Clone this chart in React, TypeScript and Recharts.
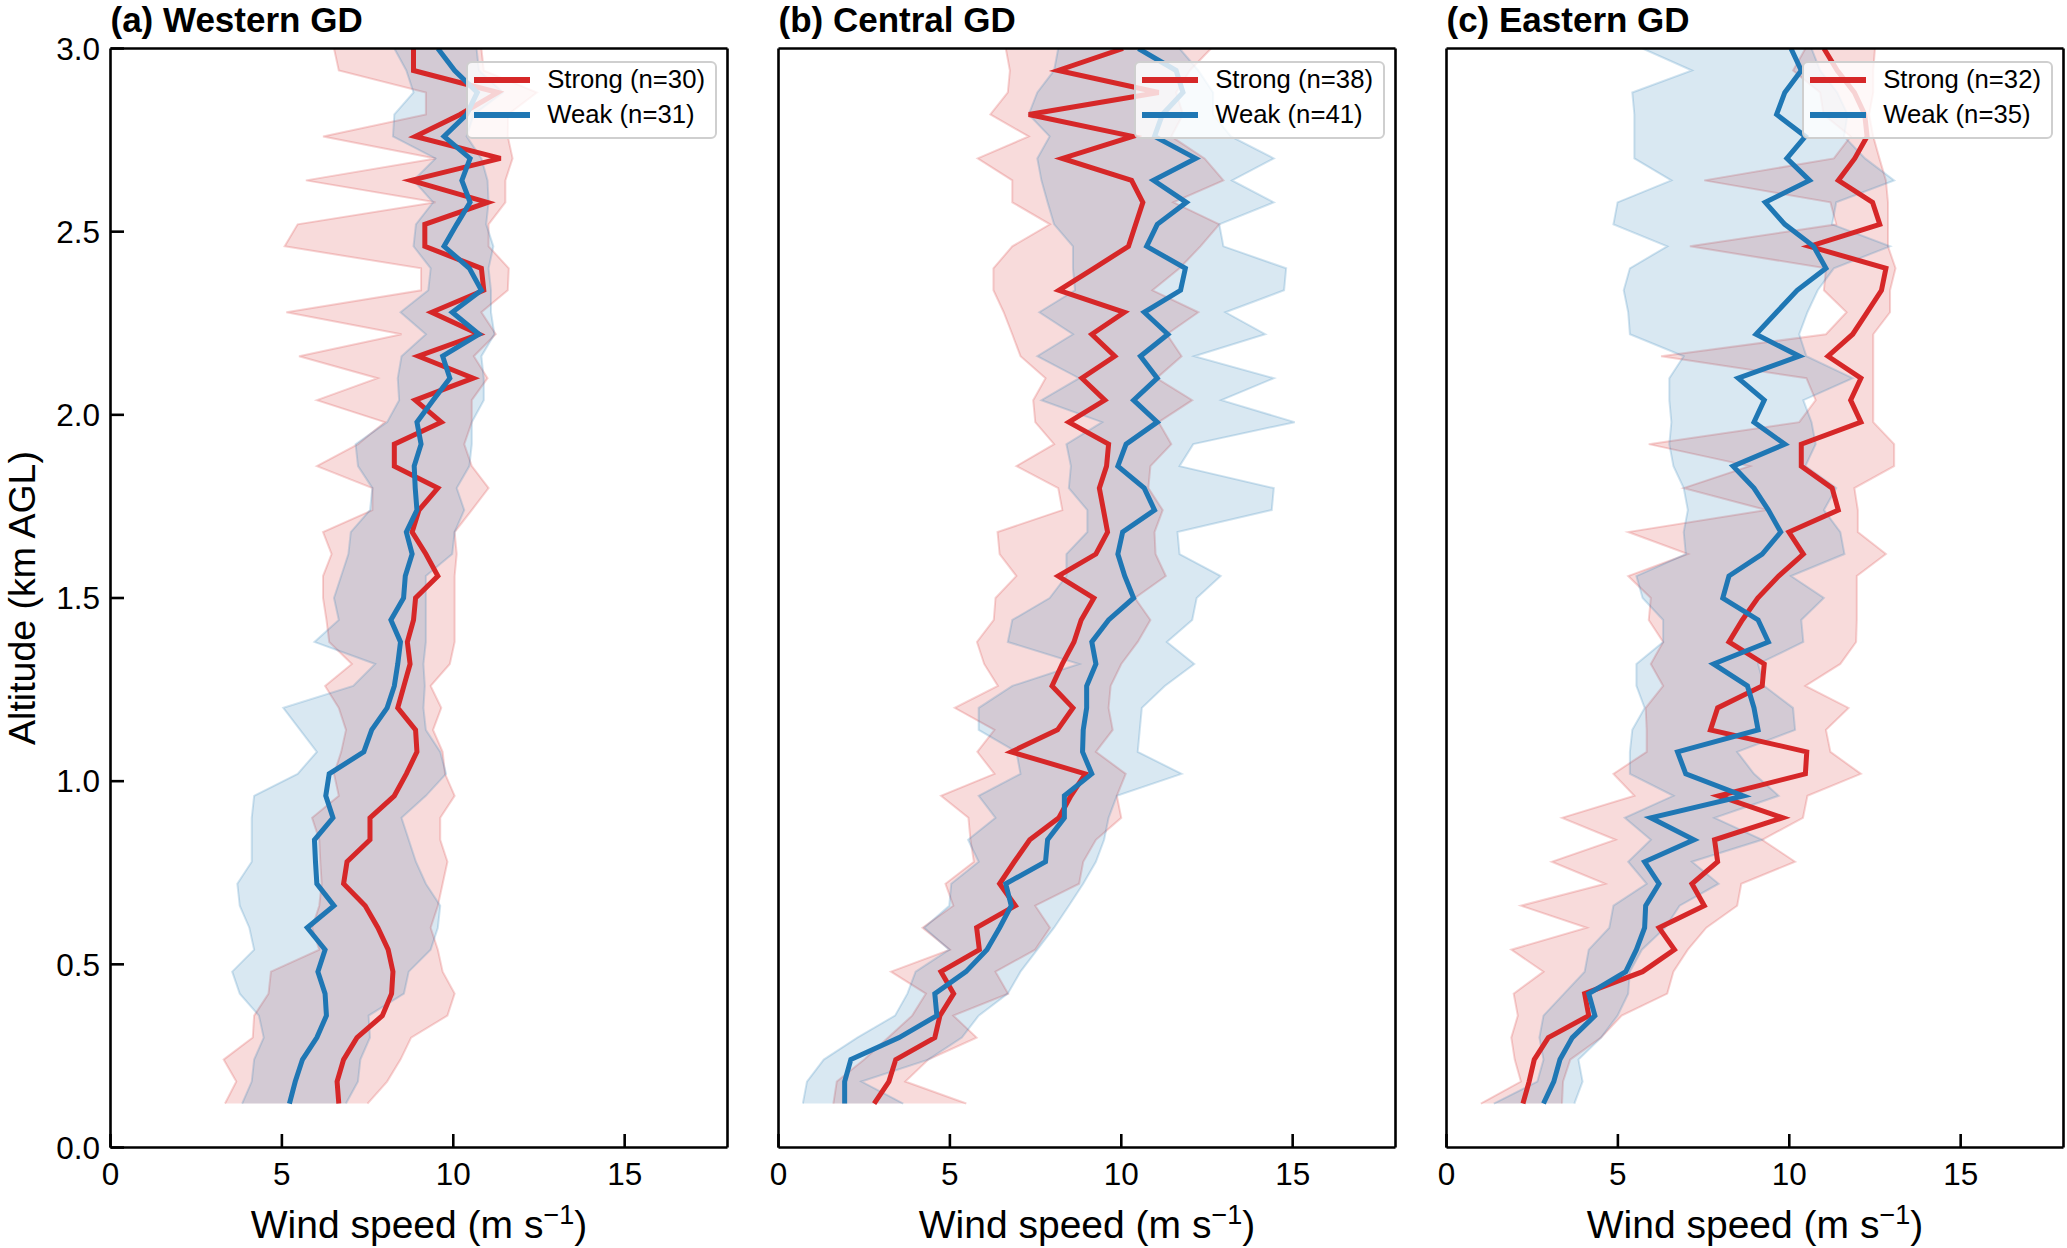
import React from 'react';
import { ComposedChart, Line, Area, XAxis, YAxis, Legend } from 'recharts';

// Mean wind-speed profiles (m/s) with their spread bands.
// Levels run from 0.12 km to 3.00 km AGL.
const altitudeKm = [
  0.12, 0.18, 0.24, 0.3, 0.36, 0.42, 0.48, 0.54,
  0.6, 0.66, 0.72, 0.78, 0.84, 0.9, 0.96, 1.02,
  1.08, 1.14, 1.2, 1.26, 1.32, 1.38, 1.44, 1.5,
  1.56, 1.62, 1.68, 1.74, 1.8, 1.86, 1.92, 1.98,
  2.04, 2.1, 2.16, 2.22, 2.28, 2.34, 2.4, 2.46,
  2.52, 2.58, 2.64, 2.7, 2.76, 2.82, 2.88, 2.94,
  3.0,
];

const xTicks = [0, 5, 10, 15];
const yTicks = [0, 0.5, 1, 1.5, 2, 2.5, 3];

// (a) Western GD
const westStrongMean = [
  6.66, 6.61, 6.8, 7.19, 7.93, 8.2, 8.24, 8.1,
  7.8, 7.43, 6.8, 6.9, 7.57, 7.57, 8.28, 8.63,
  8.94, 8.9, 8.38, 8.56, 8.74, 8.66, 8.84, 8.9,
  9.55, 9.2, 8.8, 9.0, 9.55, 8.28, 8.28, 9.65,
  8.89, 10.58, 8.98, 10.75, 9.37, 10.89, 10.82, 9.17,
  9.17, 11.0, 8.77, 11.38, 8.89, 10.2, 11.3, 8.84,
  8.84,
];
const westStrongLow = [
  3.34, 3.67, 3.3, 4.15, 4.19, 4.61, 4.68, 6.09,
  5.88, 6.09, 6.16, 6.12, 6.09, 5.88, 6.66, 6.52,
  6.73, 6.87, 6.66, 6.26, 7.04, 6.38, 6.3, 6.2,
  6.2, 6.45, 6.2, 7.64, 7.64, 6.02, 7.22, 8.0,
  6.02, 7.79, 5.5, 8.49, 5.13, 9.06, 9.06, 5.08,
  5.46, 9.48, 5.7, 9.48, 6.2, 9.2, 9.2, 6.66,
  6.52,
];
const westStrongHigh = [
  7.5, 8.07, 8.46, 8.77, 9.83, 10.04, 9.69, 9.55,
  9.34, 9.55, 9.69, 9.83, 9.62, 9.62, 10.04, 9.76,
  9.69, 9.41, 9.65, 9.34, 9.9, 10.04, 10.04, 10.04,
  10.04, 10.1, 10.04, 10.54, 11.03, 10.54, 10.32, 10.54,
  10.54, 11.0, 10.6, 11.24, 10.82, 11.59, 11.62, 11.03,
  11.03, 11.52, 11.52, 11.73, 11.59, 11.6, 12.44, 10.89,
  10.82,
];
const westWeakMean = [
  5.22, 5.39, 5.6, 6.02, 6.3, 6.26, 6.05, 6.26,
  5.74, 6.52, 6.02, 5.98, 5.95, 6.49, 6.28, 6.38,
  7.39, 7.62, 8.07, 8.28, 8.38, 8.46, 8.18, 8.55,
  8.6, 8.8, 8.63, 8.94, 8.89, 8.86, 9.06, 8.94,
  9.41, 9.9, 9.69, 10.75, 9.97, 10.82, 10.47, 9.73,
  10.1, 10.49, 10.25, 10.49, 9.73, 10.39, 10.7, 10.04,
  9.55,
];
const westWeakLow = [
  3.84, 4.12, 4.19, 4.47, 4.33, 3.77, 3.55, 4.19,
  4.05, 3.77, 3.7, 4.12, 4.12, 4.12, 4.19, 5.46,
  6.02, 5.53, 5.04, 7.08, 7.72, 5.95, 6.66, 6.52,
  6.73, 6.94, 7.01, 7.57, 7.64, 7.22, 7.15, 8.07,
  8.42, 8.38, 8.49, 9.2, 8.46, 9.27, 9.34, 8.84,
  8.91, 9.41, 8.84, 9.48, 8.24, 8.28, 8.84, 8.63,
  8.28,
];
const westWeakHigh = [
  6.87, 7.22, 7.29, 7.57, 7.53, 8.56, 8.7, 9.34,
  9.55, 9.62, 9.2, 8.91, 8.7, 8.49, 9.2, 9.79,
  9.62, 9.2, 9.13, 9.17, 9.13, 9.2, 9.2, 9.2,
  9.2, 9.97, 10.04, 10.32, 10.1, 10.47, 10.54, 10.54,
  10.89, 10.89, 10.82, 11.2, 11.1, 11.1, 11.03, 11.17,
  10.96, 11.03, 11.0, 10.82, 10.39, 10.6, 11.45, 10.75,
  10.68,
];

// (b) Central GD
const centralStrongMean = [
  2.79, 3.22, 3.42, 4.56, 4.71, 5.11, 4.74, 5.86,
  5.78, 6.91, 6.45, 6.88, 7.33, 8.18, 8.53, 8.95,
  6.79, 8.14, 8.59, 7.98, 8.28, 8.62, 8.83, 9.2,
  8.16, 9.26, 9.6, 9.48, 9.36, 9.57, 9.63, 8.47,
  9.52, 8.85, 9.81, 9.14, 10.09, 8.18, 9.2, 10.21,
  10.42, 10.63, 10.3, 8.28, 10.33, 7.3, 11.09, 8.16,
  10.05,
];
const centralStrongLow = [
  1.6, 1.7, 2.5, 3.2, 3.9, 4.3, 3.28, 5.0,
  4.2, 5.1, 4.87, 5.7, 5.6, 5.54, 4.74, 6.3,
  5.8, 6.3, 5.14, 6.4, 6.0, 5.79, 6.28, 6.33,
  6.94, 6.45, 6.39, 8.28, 8.16, 6.94, 8.04, 7.49,
  7.43, 7.79, 7.06, 6.82, 6.57, 6.27, 6.27, 6.82,
  7.92, 6.82, 6.82, 5.81, 7.3, 6.18, 6.69, 6.75,
  6.63,
];
const centralStrongHigh = [
  5.48, 3.7, 4.37, 5.78, 5.1, 6.7, 6.33, 7.49,
  7.92, 7.49, 8.77, 8.89, 9.26, 10.0, 9.87, 10.13,
  9.26, 9.75, 9.63, 9.69, 10.0, 10.48, 10.85, 10.4,
  11.3, 11.0, 10.97, 11.21, 10.79, 10.85, 11.46, 11.09,
  12.07, 11.03, 11.76, 11.33, 12.25, 10.91, 11.7, 12.31,
  12.86, 11.52, 12.98, 12.43, 11.46, 11.8, 11.6, 12.0,
  12.62,
];
const centralWeakMean = [
  1.93, 1.93, 2.11, 3.52, 4.62, 4.56, 5.47, 6.08,
  6.45, 6.79, 6.63, 7.79, 7.85, 8.34, 8.34, 9.14,
  8.87, 8.89, 8.99, 8.99, 9.26, 9.14, 9.63, 10.36,
  10.1, 9.9, 10.04, 10.97, 10.67, 9.9, 10.14, 11.05,
  10.36, 11.05, 10.56, 11.36, 10.67, 11.73, 11.87, 10.74,
  11.05, 11.9, 10.94, 12.17, 10.97, 11.2, 11.8, 11.6,
  10.5,
];
const centralWeakLow = [
  0.71, 0.83, 1.32, 2.3, 3.4, 3.76, 4.0, 4.98,
  4.25, 4.98, 5.04, 5.84, 5.53, 6.33, 5.84, 7.06,
  6.94, 5.84, 5.84, 6.82, 8.77, 6.69, 6.82, 7.91,
  8.4, 8.4, 9.01, 9.01, 8.47, 8.53, 8.4, 9.44,
  7.67, 8.77, 7.55, 8.59, 7.61, 8.65, 8.59, 8.59,
  8.04, 7.85, 7.67, 7.55, 7.91, 7.3, 7.55, 8.04,
  8.16,
];
const centralWeakHigh = [
  3.64, 2.42, 4.37, 5.35, 5.84, 6.69, 7.06, 7.55,
  8.04, 8.47, 8.89, 9.26, 9.5, 9.63, 9.87, 11.76,
  10.48, 10.54, 10.6, 11.27, 12.13, 11.33, 12.07, 12.2,
  12.9, 11.7, 11.64, 14.39, 14.45, 11.7, 12.1, 15.06,
  12.92, 14.45, 12.13, 14.2, 13.04, 14.75, 14.81, 12.98,
  12.86, 14.45, 13.23, 14.45, 13.2, 12.68, 12.68, 12.25,
  11.7,
];

// (c) Eastern GD
const easternStrongMean = [
  2.23, 2.41, 2.56, 2.97, 4.15, 4.03, 5.72, 6.65,
  6.2, 7.52, 7.16, 7.91, 7.82, 9.81, 7.94, 10.47,
  10.51, 7.7, 7.91, 9.21, 9.27, 8.24, 8.63, 9.08,
  9.69, 10.41, 9.99, 11.43, 11.25, 10.35, 10.35, 12.09,
  11.79, 12.09, 11.13, 11.85, 12.27, 12.69, 12.82, 10.59,
  12.64, 12.43, 11.43, 11.91, 12.27, 12.2, 11.9, 11.4,
  11.01,
];
const easternStrongLow = [
  1.0, 2.17, 1.99, 1.89, 2.08, 1.96, 2.83, 1.89,
  4.09, 2.17, 4.63, 3.07, 4.93, 3.37, 5.48, 4.87,
  5.84, 5.84, 5.81, 6.32, 5.96, 6.32, 5.9, 5.96,
  5.3, 7.04, 5.3, 9.33, 6.92, 8.84, 5.9, 10.29,
  10.77, 10.5, 6.26, 11.07, 11.67, 11.01, 11.07, 7.1,
  11.37, 11.2, 7.52, 11.3, 11.79, 11.0, 10.9, 10.11,
  10.47,
];
const easternStrongHigh = [
  3.37, 3.4, 3.61, 4.51, 5.11, 6.44, 6.62, 7.04,
  7.58, 8.48, 8.6, 10.17, 9.21, 10.4, 10.53, 12.09,
  11.2, 11.07, 11.73, 10.47, 11.49, 11.95, 11.97, 11.97,
  11.97, 12.82, 12.0, 12.0, 11.9, 13.06, 13.06, 12.45,
  12.45, 12.45, 12.45, 12.45, 12.94, 12.94, 13.1, 12.88,
  12.88, 12.88, 12.82, 12.63, 12.45, 12.33, 12.45, 12.45,
  12.5,
];
const easternWeakMean = [
  2.83, 3.13, 3.31, 3.67, 4.33, 4.15, 5.23, 5.54,
  5.78, 5.81, 6.2, 5.78, 7.22, 5.96, 8.66, 6.98,
  6.74, 9.09, 8.97, 8.78, 7.79, 9.39, 9.09, 8.06,
  8.24, 9.21, 9.75, 9.39, 8.97, 8.36, 9.87, 8.97,
  9.27, 8.51, 10.29, 9.03, 9.63, 10.23, 11.07, 10.71,
  9.87, 9.3, 10.59, 9.93, 10.47, 9.63, 9.87, 10.35,
  10.05,
];
const easternWeakLow = [
  1.38, 2.65, 2.83, 2.71, 2.83, 3.43, 4.03, 4.15,
  4.75, 4.87, 5.84, 5.3, 5.96, 5.2, 6.62, 5.35,
  5.35, 5.42, 5.78, 5.54, 5.54, 6.32, 6.32, 5.72,
  5.54, 6.98, 6.92, 7.04, 6.92, 6.62, 6.5, 6.56,
  6.5, 6.5, 6.92, 5.35, 5.3, 5.17, 5.35, 6.44,
  4.87, 4.99, 6.56, 5.48, 5.48, 5.48, 5.42, 7.16,
  5.72,
];
const easternWeakHigh = [
  3.73, 3.97, 3.85, 4.51, 4.99, 5.3, 5.35, 5.7,
  6.38, 6.8, 7.94, 7.16, 9.21, 7.82, 9.69, 8.97,
  8.48, 10.17, 10.11, 9.27, 9.09, 10.41, 10.35, 11.01,
  10.05, 11.61, 11.49, 11.01, 11.37, 10.47, 10.77, 10.65,
  10.41, 11.85, 10.5, 10.29, 10.53, 10.83, 11.3, 12.94,
  11.25, 11.37, 13.06, 12.21, 11.6, 11.7, 11.4, 10.9,
  10.65,
];

const panels = [
  {
    title: '(a) Western GD', nStrong: 30, nWeak: 31,
    strongMean: westStrongMean, strongLow: westStrongLow, strongHigh: westStrongHigh,
    weakMean: westWeakMean, weakLow: westWeakLow, weakHigh: westWeakHigh,
  },
  {
    title: '(b) Central GD', nStrong: 38, nWeak: 41,
    strongMean: centralStrongMean, strongLow: centralStrongLow, strongHigh: centralStrongHigh,
    weakMean: centralWeakMean, weakLow: centralWeakLow, weakHigh: centralWeakHigh,
  },
  {
    title: '(c) Eastern GD', nStrong: 32, nWeak: 35,
    strongMean: easternStrongMean, strongLow: easternStrongLow, strongHigh: easternStrongHigh,
    weakMean: easternWeakMean, weakLow: easternWeakLow, weakHigh: easternWeakHigh,
  },
];

const RED = '#d62728';
const BLUE = '#1f77b4';
const FONT = '"Liberation Sans", Arial, Helvetica, sans-serif';

// layout (px)
const FIG_W = 2067;
const FIG_H = 1248;
const PLOT_TOP = 48.5;
const PLOT_W = 617;
const PLOT_H = 1099;
const GUTTER = 110.5;      // room left of each plot for the y axis
const PANEL_LEFT = [110.5, 778.5, 1446.5];
const CHART_W = GUTTER + PLOT_W + 4;
const BOTTOM_H = FIG_H - PLOT_TOP - PLOT_H;
const TICK = -13.5;         // negative = ticks point into the plot
const AXIS_STROKE = { stroke: '#000', strokeWidth: 2.6 };
const TICK_FONT = { fill: '#000', fontSize: 31.5, fontFamily: FONT };

function buildRows(p: typeof panels[number]) {
  return altitudeKm.map((alt, i) => ({
    alt,
    strong: p.strongMean[i],
    weak: p.weakMean[i],
    strongBand: [p.strongLow[i], p.strongHigh[i]],
    weakBand: [p.weakLow[i], p.weakHigh[i]],
  }));
}

function LegendBox(props: any) {
  const items = (props.payload ?? []).filter((it: any) => it.type !== 'none');
  return (
    <div style={{
      background: 'rgba(255,255,255,0.8)', border: '2px solid #cfcfcf', borderRadius: 6,
      padding: '0 10px 4.6px 6px', fontFamily: FONT, fontSize: 25.7, color: '#000', lineHeight: 1,
      whiteSpace: 'nowrap',
    }}>
      {items.map((it: any) => (
        <div key={it.value} style={{ display: 'flex', alignItems: 'center', height: 35 }}>
          <span style={{ display: 'inline-block', width: 56, height: 5.5, background: it.color, marginRight: 17.5 }} />
          <span>{it.value}</span>
        </div>
      ))}
    </div>
  );
}

function Panel({ index }: { index: number }) {
  const p = panels[index];
  const rows = buildRows(p);
  const showY = index === 0;

  return (
    <div style={{ position: 'absolute', left: PANEL_LEFT[index] - GUTTER, top: 0 }}>
      <ComposedChart
        layout="vertical"
        width={CHART_W}
        height={FIG_H}
        data={rows}
        margin={{ top: PLOT_TOP - 1, right: 3, bottom: 0, left: 0 }}
      >
        <XAxis
          xAxisId="bottom" orientation="bottom" type="number" domain={[0, 18]} allowDataOverflow
          ticks={xTicks} height={BOTTOM_H} tickSize={TICK} tickMargin={29}
          tick={TICK_FONT}
          axisLine={AXIS_STROKE} tickLine={AXIS_STROKE}
        />
        <XAxis
          xAxisId="top" orientation="top" type="number" domain={[0, 18]} allowDataOverflow
          ticks={xTicks} height={1} tickSize={TICK} tick={false}
          axisLine={AXIS_STROKE} tickLine={AXIS_STROKE}
        />
        <YAxis
          yAxisId="left" orientation="left" type="number" dataKey="alt" domain={[0, 3]} allowDataOverflow reversed
          ticks={yTicks} width={GUTTER} tickSize={TICK} tickMargin={24}
          tick={showY ? TICK_FONT : false}
          tickFormatter={(v: number) => v.toFixed(1)}
          axisLine={AXIS_STROKE} tickLine={AXIS_STROKE}
        />
        <YAxis
          yAxisId="right" orientation="right" type="number" dataKey="alt" domain={[0, 3]} allowDataOverflow reversed
          ticks={yTicks} width={1} tickSize={TICK} tick={false}
          axisLine={AXIS_STROKE} tickLine={AXIS_STROKE}
        />

        <Area
          xAxisId="bottom" yAxisId="left" dataKey="strongBand" type="linear"
          fill={RED} fillOpacity={0.17} stroke={RED} strokeOpacity={0.2} strokeWidth={2}
          legendType="none" isAnimationActive={false} dot={false} activeDot={false}
        />
        <Area
          xAxisId="bottom" yAxisId="left" dataKey="weakBand" type="linear"
          fill={BLUE} fillOpacity={0.17} stroke={BLUE} strokeOpacity={0.2} strokeWidth={2}
          legendType="none" isAnimationActive={false} dot={false} activeDot={false}
        />
        <Line
          xAxisId="bottom" yAxisId="left" dataKey="strong" name={`Strong (n=${p.nStrong})`} type="linear"
          stroke={RED} strokeWidth={5} dot={false} activeDot={false} isAnimationActive={false}
        />
        <Line
          xAxisId="bottom" yAxisId="left" dataKey="weak" name={`Weak (n=${p.nWeak})`} type="linear"
          stroke={BLUE} strokeWidth={5} dot={false} activeDot={false} isAnimationActive={false}
        />

        <Legend
          layout="horizontal" verticalAlign="middle" align="center"
          wrapperStyle={{ top: PLOT_TOP + 12.2, right: 3 + 1 + 10.5, left: 'auto', width: 'auto' }}
          content={<LegendBox />}
        />
      </ComposedChart>
    </div>
  );
}

export default function App() {
  return (
    <div style={{
      position: 'absolute', left: 0, top: 0, width: FIG_W, height: FIG_H,
      background: '#fff', overflow: 'hidden', fontFamily: FONT,
    }}>
      {panels.map((_, i) => <Panel key={i} index={i} />)}

      {/* titles and axis labels */}
      <svg width={FIG_W} height={FIG_H} style={{ position: 'absolute', left: 0, top: 0, pointerEvents: 'none' }}>
        {panels.map((p, i) => (
          <g key={i} fontFamily={FONT} fill="#000">
            <text x={PANEL_LEFT[i]} y={32} fontSize={35} fontWeight="bold">
              {p.title}
            </text>
            <text x={PANEL_LEFT[i] + PLOT_W / 2} y={1238} textAnchor="middle" fontSize={39}>
              Wind speed (m s<tspan dy={-14} fontSize={27}>−1</tspan><tspan dy={14}>)</tspan>
            </text>
          </g>
        ))}
        <text
          transform={`translate(34.5, ${PLOT_TOP + PLOT_H / 2}) rotate(-90)`}
          textAnchor="middle" fontSize={37.5} fontFamily={FONT} fill="#000"
        >
          Altitude (km AGL)
        </text>
      </svg>
    </div>
  );
}
